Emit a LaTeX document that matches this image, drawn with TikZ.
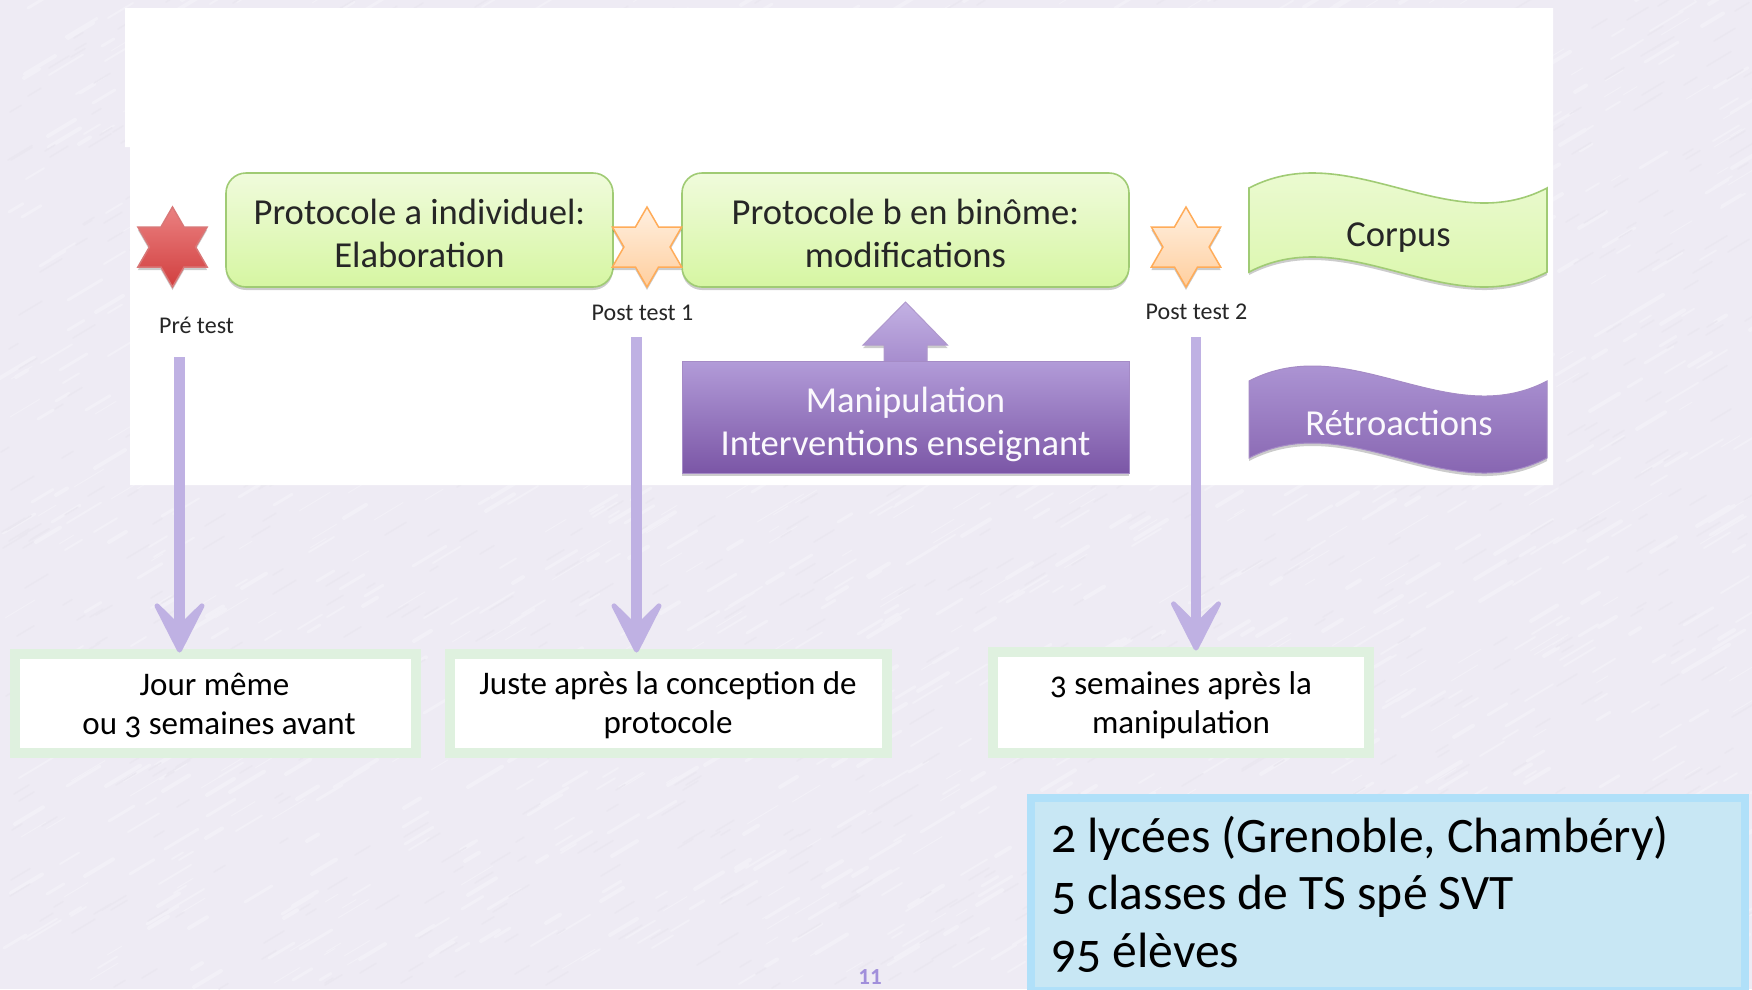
\documentclass[tikz,border=0pt]{standalone}
\usepackage{fontspec}
\setmainfont{Carlito}
\newfontfamily\oldnum[Numbers=OldStyle]{Carlito}
\usetikzlibrary{shapes.geometric,shadows,arrows.meta,calc}
\definecolor{bgc}{HTML}{EEEBF4}
\definecolor{bgl}{HTML}{F2F0F7}
\definecolor{bgd}{HTML}{EAE7F0}
\definecolor{gtop}{HTML}{F0FBDC}
\definecolor{gbot}{HTML}{D6F6A2}
\definecolor{gline}{HTML}{A0CB74}
\definecolor{ptop}{HTML}{B8A3DE}
\definecolor{pbot}{HTML}{7B56A6}
\definecolor{pline}{HTML}{8E6EB8}
\definecolor{arr}{HTML}{BFB1E3}
\definecolor{lbox}{HTML}{DFF1DF}
\definecolor{blueb}{HTML}{B0E0F9}
\definecolor{bluef}{HTML}{C8E7F4}
\definecolor{pnum}{HTML}{A18FDB}
\tikzset{
  x=1pt,y=-1pt,
  softshadow/.style={drop shadow={shadow xshift=0pt,shadow yshift=-3pt,opacity=.2,fill=black}},
  greenbox/.style={draw=gline,line width=1.6pt,rounded corners=20pt,top color=gtop,bottom color=gbot,
    minimum width=387pt,minimum height=114pt,align=center,inner sep=0pt,softshadow,
    font=\fontsize{36.6}{43}\selectfont,text=black!85},
  purplebox/.style={draw=pline!80,line width=1pt,top color=ptop!90!pbot,bottom color=pbot,
    minimum width=447pt,minimum height=112pt,align=center,inner sep=0pt,softshadow,
    font=\fontsize{36.6}{43}\selectfont,text=white!94!ptop},
  hexstar/.style={star,star points=6,star point ratio=1.732,minimum size=80pt,inner sep=0pt,outer sep=0pt,line width=1.5pt,softshadow},
  redstar/.style={hexstar,draw=red!45!white!85!black,top color=red!45!white!92!black,bottom color=red!70!white!82!black},
  orangestar/.style={hexstar,draw=orange!65!white,top color=orange!12!white,bottom color=orange!38!white},
  testlabel/.style={anchor=base,inner sep=0pt,font=\fontsize{24}{28}\selectfont,text=black!85},
  wavelabel/.style={anchor=base,inner sep=0pt,font=\fontsize{36.6}{43}\selectfont},
  timebox/.style={draw=lbox,line width=10pt,fill=white,align=center,inner sep=0pt,
    font=\oldnum\fontsize{33}{39}\selectfont,text=black},
  longarrow/.style={draw=arr,line width=10.5pt,-{Stealth[length=62pt,width=63pt,inset=31pt,line width=5pt,round]}},
  infotext/.style={anchor=base west,inner sep=0pt,font=\oldnum\fontsize{49.6}{58}\selectfont,text=black},
}
\begin{document}
\begin{tikzpicture}
\useasboundingbox (0,0) rectangle (1752,989);
\fill[bgc] (0,0) rectangle (1752,989);
% paper grain of the background
\pgfmathsetseed{42}
\foreach \i in {1,...,1500}{
  \pgfmathsetmacro{\px}{random(0,1752)}
  \pgfmathsetmacro{\py}{random(0,989)}
  \pgfmathsetmacro{\pl}{random(10,34)}
  \pgfmathsetmacro{\pw}{random(1,4)}
  \draw[bgl,line width=\pw pt,line cap=round] (\px,\py) -- ++(\pl,-0.6*\pl);
}
\foreach \i in {1,...,900}{
  \pgfmathsetmacro{\px}{random(0,1752)}
  \pgfmathsetmacro{\py}{random(0,989)}
  \pgfmathsetmacro{\pl}{random(8,24)}
  \draw[bgd,line width=1.5pt,line cap=round] (\px,\py) -- ++(\pl,-0.6*\pl);
}
% white panel
\fill[white] (125,8) -- (1553,8) -- (1553,485) -- (130,485) -- (130,147) -- (125,147) -- cycle;

% green process boxes
\node[greenbox] (a) at (419.5,230) {\rule{0pt}{33pt}Protocole a individuel:\\Elaboration};
\node[greenbox,minimum width=447pt] (b) at (905.5,230) {\rule{0pt}{33pt}Protocole b en binôme:\\modifications};

% stars
\node[redstar] (s0) at (172.5,247) {};
\node[orangestar] (s1) at (647,247) {};
\node[orangestar] (s2) at (1186,247) {};
\node[testlabel] (l0) at (196.5,333) {Pré test};
\node[testlabel] (l1) at (642.5,320) {Post test 1};
\node[testlabel] (l2) at (1196.5,319) {Post test 2};

% manipulation and its block arrow
\coordinate (mt) at (905.5,361);
\path[draw=pline!70,line width=1pt,top color=ptop!85!white,bottom color=ptop!70!pbot,softshadow]
  ($(mt)+(-21.5,2)$) -- ++(0,-18) -- ++(-21,0) -- (905.5,302) -- ($(mt)+(42,-16)$) -- ++(-20.5,0) -- ++(0,18) -- cycle;
\node[purplebox] (m) at (905.5,417) {\rule{0pt}{41pt}Manipulation\\Interventions enseignant};

% waves
\path[draw=gline,line width=1.6pt,top color=gtop,bottom color=gbot,softshadow]
  (1249,188) .. controls (1349,136) and (1448,240) .. (1547,188)
  -- (1547,272) .. controls (1448,324) and (1349,220) .. (1249,272) -- cycle;
\node[wavelabel,text=black!85] (corpus) at (1398.5,246) {Corpus};
\path[draw=pline!80,line width=1pt,top color=ptop,bottom color=pbot,softshadow]
  (1249,381) .. controls (1349,329) and (1448,433) .. (1547,381)
  -- (1547,458) .. controls (1448,510) and (1349,406) .. (1249,458) -- cycle;
\node[wavelabel,text=white!94!ptop] (retro) at (1399,435) {Rétroactions};

% time boxes
\node[timebox,minimum width=401pt,minimum height=99.5pt] (t0) at (215.5,703.25) {\rule{0pt}{27.5pt}Jour même\hspace*{2pt}\\\hspace*{7pt}ou 3 semaines avant};
\node[timebox,minimum width=437pt,minimum height=99.5pt] (t1) at (668,703.25) {\rule{0pt}{27.5pt}Juste après la conception de\\protocole};
\node[timebox,minimum width=375.5pt,minimum height=101pt] (t2) at (1181,702) {\rule{0pt}{30pt}3 semaines après la\\manipulation};

% long arrows
\coordinate (c0) at (179.5,357);
\coordinate (c1) at (636.5,337);
\coordinate (c2) at (1196,337);
\draw[longarrow] (c0) -- ($(c0 |- t0.north)+(0,4)$);
\draw[longarrow] (c1) -- ($(c1 |- t1.north)+(0,4)$);
\draw[longarrow] (c2) -- ($(c2 |- t2.north)+(0,4)$);

% summary box
\node[draw=blueb,line width=8pt,fill=bluef,minimum width=714pt,minimum height=193pt,anchor=north west,inner sep=0pt] (info) at (1027,794) {};
\node[infotext] (i1) at (1051,852) {2 lycées (Grenoble, Chambéry)};
\node[infotext] (i2) at (1051,909) {5 classes de TS spé SVT};
\node[infotext] (i3) at (1051,967) {95 élèves};

% page number
\node[anchor=base,inner sep=0pt,text depth=0pt,font=\bfseries\fontsize{23}{26}\selectfont,text=pnum] (pn) at (870,984) {11};
\end{tikzpicture}
\end{document}
